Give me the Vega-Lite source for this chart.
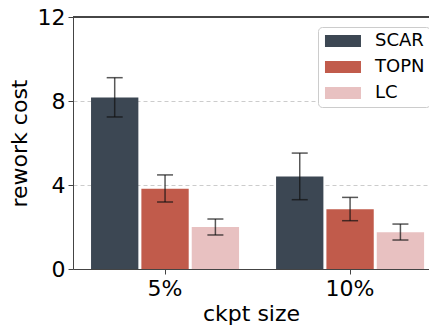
{
  "$schema": "https://vega.github.io/schema/vega-lite/v6.json",
  "autosize": "none",
  "padding": {"left": 73, "top": 17, "right": 0, "bottom": 56},
  "width": 356,
  "height": 252,
  "config": {
    "font": "DejaVu Sans",
    "view": {"stroke": null},
    "axis": {"labelFont": "DejaVu Sans", "titleFont": "DejaVu Sans", "labelColor": "black", "titleColor": "black", "titleFontWeight": "normal", "domainColor": "#444", "tickColor": "#444", "domainWidth": 1, "tickWidth": 1}
  },
  "data": {
    "values": [
      {"size": "5%", "method": "SCAR", "value": 8.17, "lo": 7.24, "hi": 9.11},
      {"size": "5%", "method": "TOPN", "value": 3.82, "lo": 3.19, "hi": 4.48},
      {"size": "5%", "method": "LC", "value": 2.0, "lo": 1.62, "hi": 2.38},
      {"size": "10%", "method": "SCAR", "value": 4.4, "lo": 3.3, "hi": 5.52},
      {"size": "10%", "method": "TOPN", "value": 2.84, "lo": 2.3, "hi": 3.41},
      {"size": "10%", "method": "LC", "value": 1.75, "lo": 1.38, "hi": 2.14}
    ]
  },
  "layer": [
    {
      "encoding": {
        "x": {
          "field": "size", "type": "nominal", "sort": ["5%", "10%"],
          "scale": {"paddingInner": 0.2, "paddingOuter": 0.062, "align": 0.786},
          "axis": {"title": "ckpt size", "labelAngle": 0, "labelFontSize": 22, "titleFontSize": 22, "tickSize": 5, "labelPadding": 4, "titlePadding": 4}
        },
        "xOffset": {"field": "method", "type": "nominal", "sort": ["SCAR", "TOPN", "LC"], "scale": {"paddingInner": 0.06, "paddingOuter": 0}}
      },
      "layer": [
        {
          "mark": {"type": "bar"},
          "encoding": {
            "y": {
              "field": "value", "type": "quantitative",
              "scale": {"domain": [0, 12], "nice": false},
              "axis": {"title": "rework cost", "values": [0, 4, 8, 12], "labelFontSize": 22, "titleFontSize": 22, "tickSize": 5, "labelPadding": 3, "titlePadding": 6, "grid": true, "gridDash": [4, 3], "gridColor": "#cccccc", "gridWidth": 1}
            },
            "color": {
              "field": "method", "type": "nominal", "sort": ["SCAR", "TOPN", "LC"],
              "scale": {"domain": ["SCAR", "TOPN", "LC"], "range": ["#3c4753", "#c15b4b", "#e8c1c1"]},
              "legend": {
                "title": null, "orient": "none", "legendX": 245, "legendY": 10,
                "fillColor": "white", "strokeColor": "#cccccc", "cornerRadius": 4, "padding": 5,
                "symbolType": "M-1.17,-1H4.83V1H-1.17Z", "symbolSize": 144, "symbolStrokeWidth": 0, "symbolOpacity": 1,
                "labelFontSize": 18, "labelFont": "DejaVu Sans", "labelColor": "black", "labelOffset": 34, "rowPadding": 8
              }
            }
          }
        },
        {
          "mark": {"type": "rule", "color": "#111", "opacity": 0.7, "strokeWidth": 1.5},
          "encoding": {"y": {"field": "lo", "type": "quantitative"}, "y2": {"field": "hi"}}
        },
        {
          "mark": {"type": "tick", "color": "#111", "opacity": 0.7, "thickness": 1.5, "size": 16, "orient": "horizontal"},
          "encoding": {"y": {"field": "lo", "type": "quantitative"}}
        },
        {
          "mark": {"type": "tick", "color": "#111", "opacity": 0.7, "thickness": 1.5, "size": 16, "orient": "horizontal"},
          "encoding": {"y": {"field": "hi", "type": "quantitative"}}
        }
      ]
    },
    {
      "mark": {"type": "rule", "color": "#444", "strokeWidth": 1},
      "encoding": {"y": {"datum": 12}}
    }
  ]
}
